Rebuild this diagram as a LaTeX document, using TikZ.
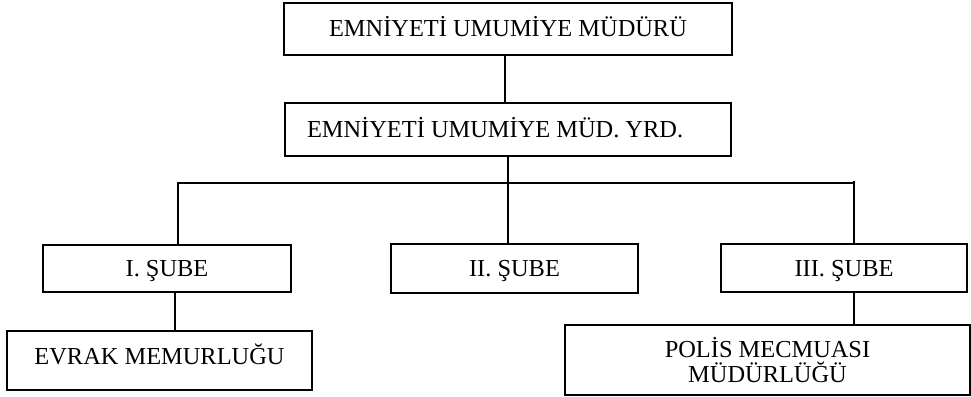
\documentclass[tikz,border=0pt]{standalone}
\usepackage{fontspec}
\setmainfont{Liberation Serif}
\frenchspacing
\begin{document}
\begin{tikzpicture}[x=1pt,y=-1pt,line width=1.9pt,
  box/.style={draw,rectangle,inner sep=0pt,align=center,font=\fontsize{24.4}{25}\selectfont\frenchspacing},
  one/.style={text height=16pt,text depth=0pt},
  conn/.style={draw,line width=1.8pt}]
\useasboundingbox (0,0) rectangle (971,396);
\node[box,one,text depth=-3pt,minimum width=448,minimum height=52] (A) at (508,29) {EMNİYETİ UMUMİYE MÜDÜRÜ};
\node[box,one,minimum height=53,text width=402,inner xsep=22pt,align=left] (B) at (508,129.5) {\spaceskip=0pt\xspaceskip=0pt\relax EMNİYETİ UMUMİYE MÜD. YRD.};
\node[box,one,text depth=-2pt,minimum width=248,minimum height=47] (C) at (167,268.5) {I. ŞUBE};
\node[box,one,text depth=-2pt,minimum width=247,minimum height=49] (D) at (514.5,268.5) {II. ŞUBE};
\node[box,one,text depth=-2pt,minimum width=246,minimum height=48] (E) at (844,268) {III. ŞUBE};
\node[box,one,text depth=9pt,minimum width=305,minimum height=59] (F) at (159.5,360.5) {EVRAK MEMURLUĞU};
\node[box,minimum width=405,minimum height=70] (G) at (767.5,360) {POLİS MECMUASI\\MÜDÜRLÜĞÜ};
\coordinate (busL) at (178,183.3);
\coordinate (busR) at (854,183.3);
\coordinate (tickR) at (854,181);
\coordinate (dropB) at (508,156);
\coordinate (dropA) at (505,55);
\coordinate (dropC) at (175,292);
\draw[conn] (dropA) -- (dropA |- B.north);
\draw[conn] (dropB) -- (dropB |- D.north);
\draw[conn] (busL |- C.north) -- (busL) -- (busR);
\draw[conn] (tickR) -- (tickR |- E.north);
\draw[conn] (dropC) -- (dropC |- F.north);
\draw[conn] (E.south -| tickR) -- (tickR |- G.north);
\end{tikzpicture}
\end{document}
